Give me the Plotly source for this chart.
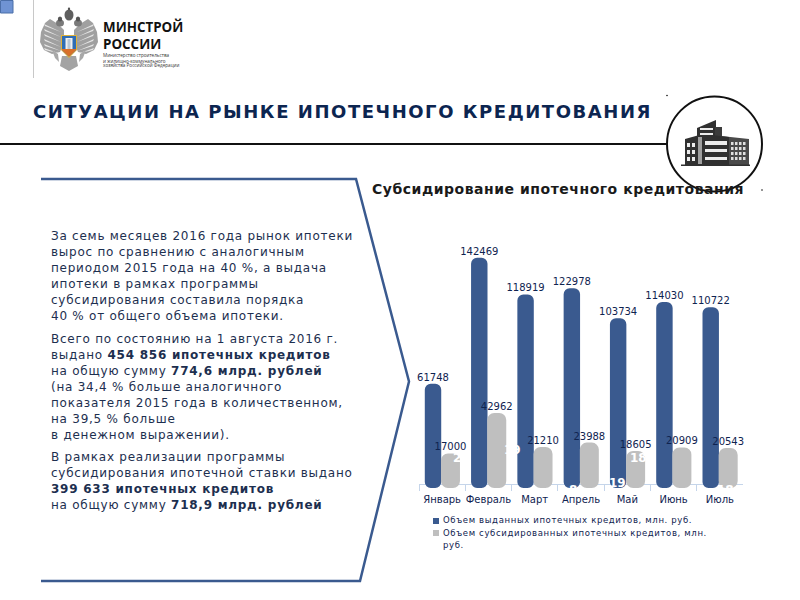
import plotly.graph_objects as go

W, H = 800, 600
months = ["Январь", "Февраль", "Март", "Апрель", "Май", "Июнь", "Июль"]
issued = [61748, 142469, 118919, 122978, 103734, 114030, 110722]
subsidized = [17000, 42962, 21210, 23988, 18605, 20909, 20543]
series_issued = "Объем выданных ипотечных кредитов, млн. руб."
series_subsidized = ["Объем субсидированных ипотечных кредитов, млн.", "руб."]
title = "СИТУАЦИИ НА РЫНКЕ ИПОТЕЧНОГО КРЕДИТОВАНИЯ"
subtitle = "Субсидирование ипотечного кредитования"
body_lines = [
    (236, "За семь месяцев 2016 года рынок ипотеки"),
    (252, "вырос по сравнению с аналогичным"),
    (268, "периодом 2015 года на 40 %, а выдача"),
    (284, "ипотеки в рамках программы"),
    (300, "субсидирования составила порядка"),
    (316, "40 % от общего объема ипотеки."),
    (339, "Всего по состоянию на 1 августа 2016 г."),
    (355, "выдано <b>454 856 ипотечных кредитов</b>"),
    (371, "на общую сумму <b>774,6 млрд. рублей</b>"),
    (387, "(на 34,4 % больше аналогичного"),
    (403, "показателя 2015 года в количественном,"),
    (419, "на 39,5 % больше"),
    (435, "в денежном выражении)."),
    (457, "В рамках реализации программы"),
    (473, "субсидирования ипотечной ставки выдано"),
    (489, "<b>399 633 ипотечных кредитов</b>"),
    (505, "на общую сумму <b>718,9 млрд. рублей</b>"),
]

NAVY = "#0f2350"
BLUE = "#3a5a8f"
GREY = "#bfbfbf"
TEXT = "#1d2f4f"
FONT = "DejaVu Sans"
BASE_PAD = 5128


def px(x):
    return x / W


def py(y):
    return 1 - y / H


def path(points, close=True):
    s = "M " + " L ".join(f"{px(x):.5f},{py(y):.5f}" for x, y in points)
    return s + (" Z" if close else "")


shapes = []
annotations = []


def poly(points, fill=None, line=None, width=0, close=True):
    shapes.append(dict(type="path", xref="paper", yref="paper", path=path(points, close),
                       fillcolor=fill if fill else "rgba(0,0,0,0)",
                       line=dict(color=line if line else "rgba(0,0,0,0)", width=width)))


def box(x0, y0, x1, y1, fill, line=None, width=0):
    shapes.append(dict(type="rect", xref="paper", yref="paper", x0=px(x0), x1=px(x1),
                       y0=py(y0), y1=py(y1), fillcolor=fill,
                       line=dict(color=line if line else "rgba(0,0,0,0)", width=width)))


def ell(cx, cy, rx, ry, fill=None, line=None, width=0):
    shapes.append(dict(type="circle", xref="paper", yref="paper", x0=px(cx - rx), x1=px(cx + rx),
                       y0=py(cy + ry), y1=py(cy - ry),
                       fillcolor=fill if fill else "rgba(0,0,0,0)",
                       line=dict(color=line if line else "rgba(0,0,0,0)", width=width)))


def label(x, y, text, size, color=TEXT, anchor="left", family=FONT):
    annotations.append(dict(xref="paper", yref="paper", x=px(x), y=py(y), text=text, showarrow=False,
                            xanchor=anchor, yanchor="middle", align=anchor,
                            font=dict(family=family, size=size, color=color),
                            borderpad=0, borderwidth=0))


# frame elements
box(0.5, 0.5, 13, 13, "#6f93d3", "#4a6ea8", 1)
poly([(33.5, 0), (33.5, 78)], line="#c8c8c8", width=1, close=False)
poly([(0, 144), (667, 144)], line="#111111", width=2, close=False)
ell(714.5, 144, 47.5, 47.5, "rgba(255,255,255,0)", "#111111", 2)
ell(667, 95.5, 0.8, 0.8, "#111111")
ell(762, 190, 0.8, 0.8, "#111111")
poly([(41, 179), (356, 179), (409, 381.5), (360, 581), (41, 581)], line=BLUE, width=2.5, close=False)

# crest: wings with pale feather stripes, heads, crown, shield
wing = "#a0a0a0"
pale = "#e6e6e6"
poly([(64, 30), (58, 24), (50, 19), (45, 23), (41, 32), (40, 42), (44, 50), (52, 54), (60, 52), (64, 42)], fill=wing)
poly([(74, 30), (80, 24), (88, 19), (93, 23), (97, 32), (98, 42), (94, 50), (86, 54), (78, 52), (74, 42)], fill=wing)
for y0, y1 in [(24, 29), (29, 34), (34, 39), (39, 44), (44, 48), (48, 51)]:
    poly([(44, y0), (61, y1 + 3), (45, y0 + 2)], fill=pale)
    poly([(94, y0), (77, y1 + 3), (93, y0 + 2)], fill=pale)
poly([(52, 50), (58, 54), (59, 62), (55, 58)], fill="#a8a8a8")
poly([(86, 50), (80, 54), (79, 62), (83, 58)], fill="#a8a8a8")
ell(60, 23, 4, 3.5, "#7a7a7a")
ell(78, 23, 4, 3.5, "#7a7a7a")
ell(60, 19, 2.2, 2.5, "#555555")
ell(78, 19, 2.2, 2.5, "#555555")
ell(69, 15, 4.5, 5.5, "#5f5f5f")
ell(69, 9, 1.2, 1.4, "#555555")
poly([(62, 56), (76, 56), (78, 66), (69, 71), (60, 66)], fill="#a3a3a3")
poly([(61, 35), (77, 35), (77, 50), (69, 58), (61, 50)], fill="#e0b23a")
poly([(62, 36), (76, 36), (76, 50), (69, 56.5), (62, 50)], fill="#2f6db5")
box(65.5, 38, 72.5, 49, "#f0f0f0")
box(67.5, 39, 70.5, 49, "#b9c7d6")
poly([(62, 49), (76, 49), (76, 50), (69, 56.5), (62, 50)], fill="#d9702a")

# building
dark = "#303030"
poly([(697, 128), (716, 120), (716, 136), (697, 136)], fill=dark)
box(715, 127, 722, 137, "#3c3c3c")
poly([(721, 136), (749, 139), (749, 166), (721, 166)], fill="#4a4a4a")
poly([(685, 139), (703, 134), (729, 137), (729, 166), (685, 166)], fill=dark)
box(681, 164.5, 750, 166, dark)
for y0, y1 in [(141, 145), (149, 152), (157, 160)]:
    box(705, y0, 727, y1, "#ececec")
box(700, 128, 713, 130, "#ececec")
box(700, 133, 713, 135, "#ececec")
box(698, 137, 702, 164, "#a0a0a0")
for wx in (687, 692):
    for wy in (143, 150, 157):
        box(wx, wy, wx + 3, wy + 4, "#ececec")
for wx in (731, 735, 739, 743):
    for wy in (142, 147, 152, 157):
        box(wx, wy, wx + 2.5, wy + 3, "#e0e0e0")

# headings
label(103, 27, "<b>МИНСТРОЙ</b>", 13.4, "#111111", family="Open Sans")
label(103, 44, "<b>РОССИИ</b>", 13.4, "#111111", family="Open Sans")
label(103, 55, "Министерство строительства", 4.6, "#333333", family="Open Sans")
label(103, 61, "и жилищно-коммунального", 4.6, "#333333", family="Open Sans")
label(103, 66, "хозяйства Российской Федерации", 4.6, "#333333", family="Open Sans")
label(33, 111, f"<b>{title}</b>", 18, "#0c2550")
label(372, 188.5, f"<b>{subtitle}</b>", 14, "#1a1a1a")
for y, line in body_lines:
    label(51, y, line, 12, TEXT)

# legend
box(433, 518, 439, 524, BLUE)
box(433, 530, 439, 536, GREY)
label(443, 520, series_issued, 8.5, NAVY)
label(443, 533, series_subsidized[0], 8.5, NAVY)
label(443, 545, series_subsidized[1], 8.5, NAVY)

# stray white data labels visible on the bars
for x, y, t in [(457, 458, "2"), (512, 450, "19"), (638, 458, "18"), (617, 483, "19"),
                (573, 490, "8"), (725, 490, "18")]:
    label(x, y, f"<b>{t}</b>", 12, "white", anchor="center")

fig = go.Figure()
fig.add_bar(x=months, y=[v + BASE_PAD for v in issued], base=-BASE_PAD, name=series_issued,
            offset=-0.375, width=0.355, marker=dict(color=BLUE, cornerradius=6, line_width=0),
            text=issued, textposition="outside", texttemplate="%{text}", constraintext="none",
            textfont=dict(family=FONT, size=10, color=NAVY), cliponaxis=False, textangle=0,
            hoverinfo="skip")
fig.add_bar(x=months, y=[v + BASE_PAD for v in subsidized], base=-BASE_PAD, name=series_subsidized[0],
            offset=-0.025, width=0.41, marker=dict(color=GREY, cornerradius=7, line_width=0),
            text=subsidized, textposition="outside", texttemplate="%{text}", constraintext="none",
            textfont=dict(family=FONT, size=10, color=NAVY), cliponaxis=False, textangle=0,
            hoverinfo="skip")

fig.update_layout(
    width=W, height=H, margin=dict(l=0, r=0, t=0, b=0), autosize=False,
    paper_bgcolor="white", plot_bgcolor="rgba(0,0,0,0)", showlegend=False, barmode="overlay",
    font=dict(family=FONT), shapes=shapes, annotations=annotations,
    xaxis=dict(domain=[419 / W, 743 / W], type="category", tickson="boundaries", ticks="outside",
               ticklen=6, tickwidth=1, tickcolor="#c5d5ea", showline=True, linecolor="#c5d5ea", linewidth=1,
               tickfont=dict(family=FONT, size=10, color=NAVY), showgrid=False, layer="below traces",
               tickangle=0, anchor="free", position=1 - 484 / H, ticklabelstandoff=6),
    yaxis=dict(domain=[1 - 490 / H, 1 - 240 / H], range=[-6410, 153846], visible=False,
               showgrid=False, zeroline=False),
)
spacing_js = """
document.body.style.margin='0';
document.querySelectorAll('.annotation-text').forEach(function(t){
  var s = parseFloat(t.style.fontSize);
  var v = 0;
  if (s === 18) v = 1.55;
  else if (s === 14) v = 0.52;
  else if (s === 12 && t.textContent.length > 3) v = 0.75;
  else if (s === 8.5) v = 0.64;
  if (v) t.style.letterSpacing = v + 'px';
});
document.querySelectorAll('.bartext').forEach(function(t){
  t.setAttribute('transform', 'translate(0,2) ' + (t.getAttribute('transform') || ''));
});
"""
fig.write_html("out.html", config=dict(displayModeBar=False, staticPlot=True), post_script=spacing_js)
